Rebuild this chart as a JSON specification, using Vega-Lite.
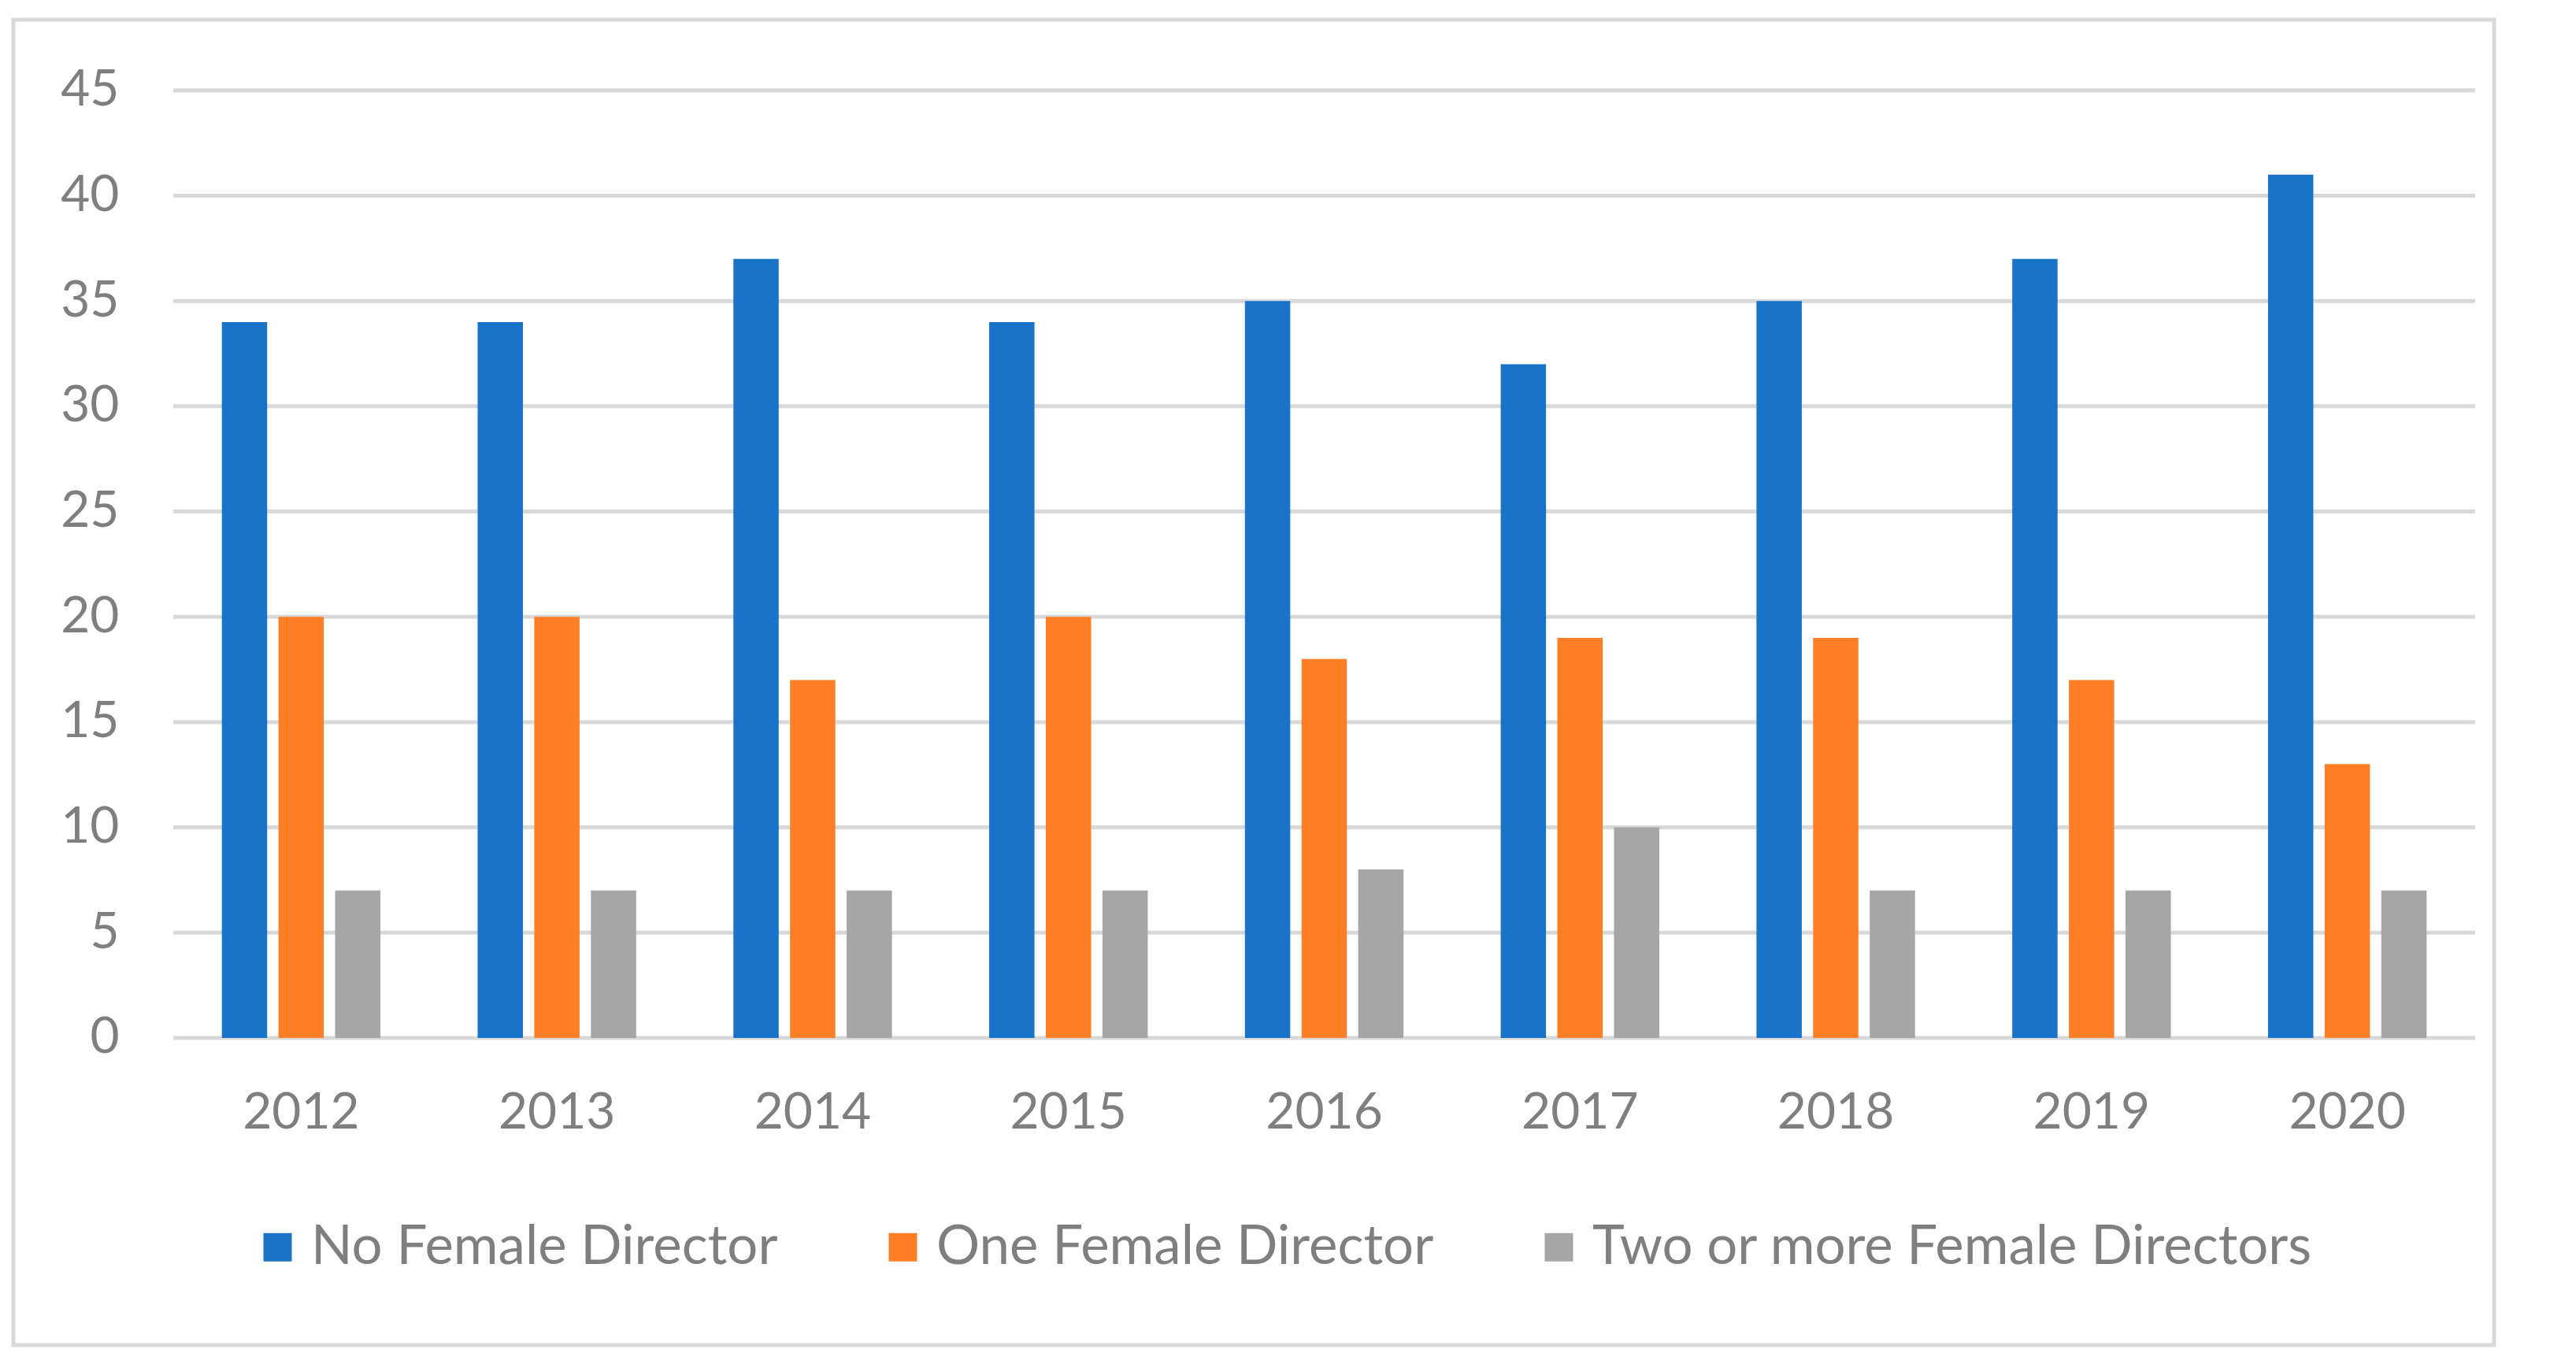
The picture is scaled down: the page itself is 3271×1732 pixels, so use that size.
{
  "$schema": "https://vega.github.io/schema/vega-lite/v6.json",
  "width": 3271,
  "height": 1732,
  "autosize": {"type": "fit", "contains": "padding"},
  "padding": {"left": 17, "top": 25, "right": 104, "bottom": 24},
  "background": "white",
  "config": {
    "view": {"stroke": "#d9d9d9", "strokeWidth": 5},
    "font": "Lato"
  },
  "datasets": {
    "bars": [
      {"year": "2012", "series": "No Female Director", "value": 34},
      {"year": "2012", "series": "One Female Director", "value": 20},
      {"year": "2012", "series": "Two or more Female Directors", "value": 7},
      {"year": "2013", "series": "No Female Director", "value": 34},
      {"year": "2013", "series": "One Female Director", "value": 20},
      {"year": "2013", "series": "Two or more Female Directors", "value": 7},
      {"year": "2014", "series": "No Female Director", "value": 37},
      {"year": "2014", "series": "One Female Director", "value": 17},
      {"year": "2014", "series": "Two or more Female Directors", "value": 7},
      {"year": "2015", "series": "No Female Director", "value": 34},
      {"year": "2015", "series": "One Female Director", "value": 20},
      {"year": "2015", "series": "Two or more Female Directors", "value": 7},
      {"year": "2016", "series": "No Female Director", "value": 35},
      {"year": "2016", "series": "One Female Director", "value": 18},
      {"year": "2016", "series": "Two or more Female Directors", "value": 8},
      {"year": "2017", "series": "No Female Director", "value": 32},
      {"year": "2017", "series": "One Female Director", "value": 19},
      {"year": "2017", "series": "Two or more Female Directors", "value": 10},
      {"year": "2018", "series": "No Female Director", "value": 35},
      {"year": "2018", "series": "One Female Director", "value": 19},
      {"year": "2018", "series": "Two or more Female Directors", "value": 7},
      {"year": "2019", "series": "No Female Director", "value": 37},
      {"year": "2019", "series": "One Female Director", "value": 17},
      {"year": "2019", "series": "Two or more Female Directors", "value": 7},
      {"year": "2020", "series": "No Female Director", "value": 41},
      {"year": "2020", "series": "One Female Director", "value": 13},
      {"year": "2020", "series": "Two or more Female Directors", "value": 7}
    ],
    "grid": [
      {"v": 0}, {"v": 5}, {"v": 10}, {"v": 15}, {"v": 20},
      {"v": 25}, {"v": 30}, {"v": 35}, {"v": 40}, {"v": 45}
    ]
  },
  "layer": [
    {
      "data": {"name": "grid"},
      "mark": {"type": "rule", "stroke": "#d9d9d9", "strokeWidth": 5},
      "encoding": {
        "y": {
          "field": "v",
          "type": "quantitative",
          "title": null,
          "scale": {"domain": [-14.59, 48.36], "nice": false, "zero": false},
          "axis": {
            "values": [0, 5, 10, 15, 20, 25, 30, 35, 40, 45],
            "grid": false,
            "domain": false,
            "ticks": false,
            "tickSize": 0,
            "labelPadding": 0,
            "offset": -134,
            "labelFontSize": 64,
            "labelColor": "#7f7f7f",
            "labelFont": "Lato",
            "title": null
          }
        },
        "x": {"datum": 0, "type": "quantitative", "scale": {"domain": [0, 1], "range": [203, 3126]}, "axis": null},
        "x2": {"datum": 1}
      }
    },
    {
      "data": {"name": "bars"},
      "mark": {"type": "bar"},
      "encoding": {
        "x": {
          "field": "year",
          "type": "nominal",
          "title": null,
          "scale": {"range": [203, 3126], "paddingInner": 0.38, "paddingOuter": 0.19},
          "axis": {
            "orient": "bottom",
            "offset": -391,
            "domain": false,
            "ticks": false,
            "tickSize": 0,
            "labelPadding": 64,
            "labelAngle": 0,
            "labelFontSize": 64,
            "labelColor": "#7f7f7f",
            "labelFont": "Lato",
            "grid": false,
            "title": null
          }
        },
        "xOffset": {
          "field": "series",
          "type": "nominal",
          "sort": ["No Female Director", "One Female Director", "Two or more Female Directors"],
          "scale": {"paddingInner": 0.2, "paddingOuter": 0}
        },
        "y": {"field": "value", "type": "quantitative", "title": null},
        "color": {
          "field": "series",
          "type": "nominal",
          "scale": {
            "domain": ["No Female Director", "One Female Director", "Two or more Female Directors"],
            "range": ["#1873C9", "#FF7F27", "#A6A6A6"]
          },
          "legend": {
            "orient": "none",
            "direction": "horizontal",
            "legendX": 301,
            "legendY": 1524,
            "title": null,
            "symbolType": "square",
            "symbolSize": 1296,
            "symbolStrokeWidth": 0,
            "labelFontSize": 69,
            "labelColor": "#7f7f7f",
            "labelFont": "Lato",
            "labelLimit": 2000,
            "labelOffset": 8,
            "columnPadding": 124
          }
        }
      }
    }
  ],
  "resolve": {"scale": {"x": "independent"}}
}
